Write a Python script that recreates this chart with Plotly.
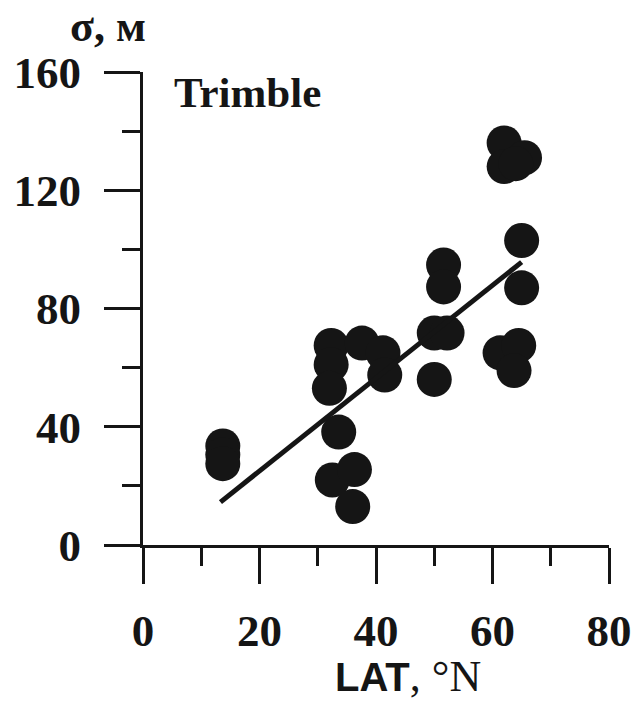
import plotly.graph_objects as go

# Data (latitude in °N, sigma in m)
lat = [13.7, 13.7, 13.7,
       32.3, 32.3, 32.0, 37.6, 41.2, 41.5, 33.6,
       32.5, 36.3, 36.0,
       51.6, 51.6, 50.0, 52.2, 50.0,
       62.0, 62.0, 65.5, 64.0, 65.0, 65.0, 61.3, 64.5, 63.7]
sigma = [33.5, 30.5, 27.5,
         67.5, 61.0, 53.0, 68.3, 65.0, 57.5, 38.2,
         22.0, 25.5, 13.0,
         94.7, 87.3, 71.7, 71.7, 56.0,
         136.0, 128.0, 131.0, 129.0, 103.0, 87.0, 65.0, 67.5, 59.0]

fit_lat = [13.3, 65.0]
fit_sigma = [14.5, 95.7]

x_ticks = [0, 20, 40, 60, 80]
y_ticks = [0, 40, 80, 120, 160]

INK = "#151515"
serif_bold = dict(family="Liberation Serif", size=45, color=INK, weight="bold")

fig = go.Figure()
fig.add_trace(go.Scatter(x=lat, y=sigma, mode="markers",
                         marker=dict(size=35, color=INK, line=dict(width=0)),
                         cliponaxis=False, showlegend=False))
fig.add_trace(go.Scatter(x=fit_lat, y=fit_sigma, mode="lines",
                         line=dict(color=INK, width=5), showlegend=False))

axis_common = dict(showline=True, linecolor=INK, linewidth=3, ticks="outside",
                   tickcolor=INK, tickwidth=3, ticklen=36, showgrid=False,
                   zeroline=False, tickfont=serif_bold)

fig.update_xaxes(range=[0, 80], tickvals=x_ticks, ticktext=[str(v) for v in x_ticks],
                 ticklabelstandoff=8,
                 minor=dict(dtick=10, tick0=0, ticks="outside", ticklen=18,
                            tickwidth=3, tickcolor=INK, showgrid=False),
                 **axis_common)
fig.update_yaxes(range=[0, 160], tickvals=y_ticks, ticktext=[str(v) for v in y_ticks],
                 ticklabelstandoff=14,
                 minor=dict(dtick=20, tick0=0, ticks="outside", ticklen=18,
                            tickwidth=3, tickcolor=INK, showgrid=False),
                 **axis_common)

fig.add_annotation(x=5.0, y=153, xref="x", yref="y", text="Trimble",
                   showarrow=False, xanchor="left", yanchor="middle",
                   font=dict(family="Liberation Serif", size=43, color=INK, weight="bold"))
fig.add_annotation(x=0.01, y=1.097, xref="paper", yref="paper", text="σ, м",
                   showarrow=False, xanchor="right", yanchor="middle",
                   font=dict(family="Liberation Serif", size=44, color=INK, weight="bold"))
fig.add_annotation(x=45.5, y=-0.333, xref="x", yref="paper",
                   text="<span style='font-family:Liberation Sans;font-size:40px'><b>LAT</b></span>"
                        "<span style='font-family:Liberation Serif'>, °N</span>",
                   showarrow=False, xanchor="center", yanchor="bottom",
                   font=dict(family="Liberation Serif", size=44, color=INK))

fig.update_layout(width=644, height=705, margin=dict(l=143, r=25, t=72, b=160),
                  paper_bgcolor="white", plot_bgcolor="white")

fig.write_html("out.html")
